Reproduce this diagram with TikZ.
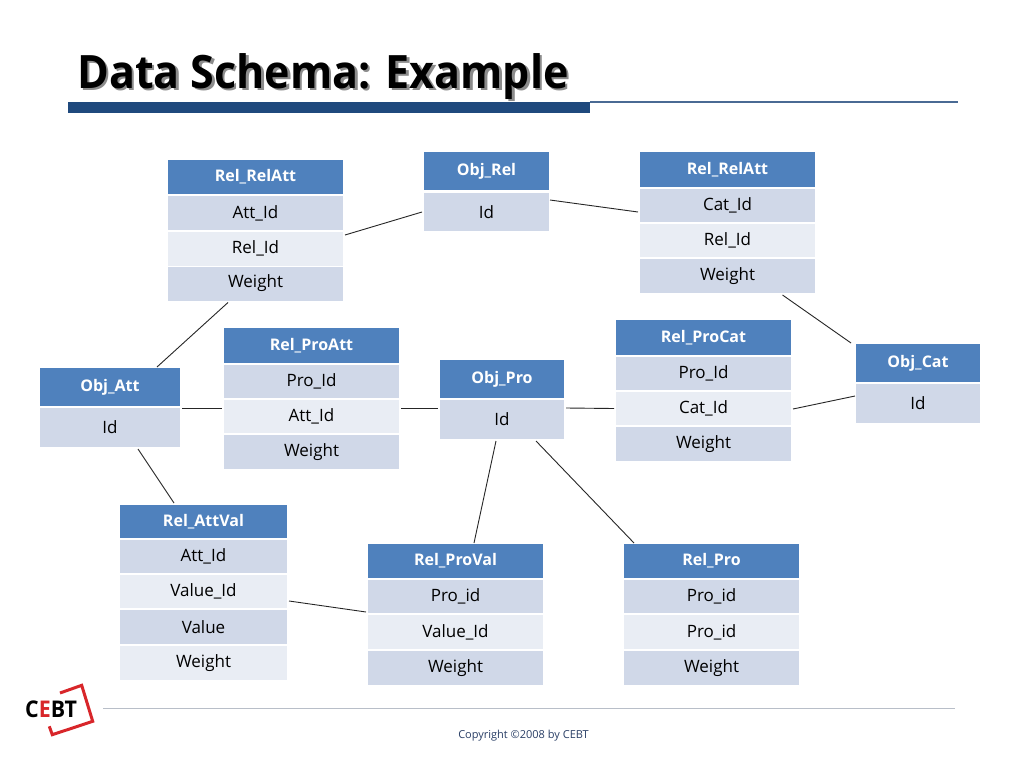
\documentclass[tikz,border=0pt]{standalone}
\usepackage{fontspec}
\setmainfont{Open Sans}
\definecolor{hdrblue}{HTML}{4F81BD}
\definecolor{rowdark}{HTML}{D0D8E8}
\definecolor{rowlight}{HTML}{E9EDF4}
\definecolor{barblue}{HTML}{1F497D}
\definecolor{thinblue}{HTML}{4A6A94}
\definecolor{footgray}{HTML}{B8BEC8}
\definecolor{copyblue}{HTML}{2A3F66}
\definecolor{logored}{HTML}{D8262A}
\tikzset{
  cellbase/.style={inner sep=0pt, outer sep=0pt, anchor=center},
  hdr/.style={cellbase, fill=hdrblue, text=white, font=\fontsize{16}{19}\selectfont\bfseries},
  rdark/.style={cellbase, fill=rowdark, text=black, font=\fontsize{17}{20}\selectfont},
  rlight/.style={cellbase, fill=rowlight, text=black, font=\fontsize{17}{20}\selectfont},
  wd/.style={minimum width=#1},
  ht/.style={minimum height=#1},
  link/.style={draw=black!85, line width=0.9pt},
}
\begin{document}
\begin{tikzpicture}[x=1pt,y=-1pt]
\useasboundingbox (0,0) rectangle (1024,768);
\fill[white] (0,0) rectangle (1024,768);

% ---- title ----
\node[anchor=base west, inner sep=0pt, text=black!45, font=\fontsize{46}{50}\selectfont\bfseries] (titleshadow) at (79.5,90.5) {\scalebox{0.935}[1]{Data Schema: Example}};
\node[anchor=base west, inner sep=0pt, text=black, font=\fontsize{46}{50}\selectfont\bfseries] (title) at (77,88) {\scalebox{0.935}[1]{Data Schema: Example}};
\fill[barblue] (68,102) rectangle (590,113);
\draw[thinblue, line width=1.3pt] (590,102) -- (958,102);

% ---- Rel_RelAtt (left) ----
\node[hdr, wd=175, ht=34] (lah) at (255.5,177) {Rel\_RelAtt};
\node[rdark, wd=175, ht=34] (la1) at (255.5,213) {Att\_Id};
\node[rlight, wd=175, ht=34] (la2) at (255.5,248.5) {Rel\_Id};
\node[rdark, wd=175, ht=34] (la3) at (255.5,283.5) {Weight};

% ---- Obj_Rel ----
\node[hdr, wd=125, ht=38] (orh) at (486.5,171) {Obj\_Rel};
\node[rdark, wd=125, ht=38] (or1) at (486.5,212) {Id};

% ---- Rel_RelAtt (right) ----
\node[hdr, wd=175, ht=35] (rah) at (727.5,169.5) {Rel\_RelAtt};
\node[rdark, wd=175, ht=33] (ra1) at (727.5,205.5) {Cat\_Id};
\node[rlight, wd=175, ht=33] (ra2) at (727.5,240.5) {Rel\_Id};
\node[rdark, wd=175, ht=34] (ra3) at (727.5,276) {Weight};

% ---- Obj_Att ----
\node[hdr, wd=140, ht=38] (oah) at (110,387) {Obj\_Att};
\node[rdark, wd=140, ht=39] (oa1) at (110,427.5) {Id};

% ---- Rel_ProAtt ----
\node[hdr, wd=175, ht=35] (pah) at (311.5,345.5) {Rel\_ProAtt};
\node[rdark, wd=175, ht=33] (pa1) at (311.5,381.5) {Pro\_Id};
\node[rlight, wd=175, ht=33] (pa2) at (311.5,416.5) {Att\_Id};
\node[rdark, wd=175, ht=34] (pa3) at (311.5,452) {Weight};

% ---- Obj_Pro ----
\node[hdr, wd=124, ht=38] (oph) at (502,379) {Obj\_Pro};
\node[rdark, wd=124, ht=39] (op1) at (502,419.5) {Id};

% ---- Rel_ProCat ----
\node[hdr, wd=175, ht=35] (pch) at (703.5,337.5) {Rel\_ProCat};
\node[rdark, wd=175, ht=33] (pc1) at (703.5,373.5) {Pro\_Id};
\node[rlight, wd=175, ht=33] (pc2) at (703.5,408.5) {Cat\_Id};
\node[rdark, wd=175, ht=34] (pc3) at (703.5,444) {Weight};

% ---- Obj_Cat ----
\node[hdr, wd=124, ht=38] (och) at (918,363) {Obj\_Cat};
\node[rdark, wd=124, ht=39] (oc1) at (918,403.5) {Id};

% ---- Rel_AttVal ----
\node[hdr, wd=167, ht=33] (avh) at (203.5,521.5) {Rel\_AttVal};
\node[rdark, wd=167, ht=33] (av1) at (203.5,556.5) {Att\_Id};
\node[rlight, wd=167, ht=33] (av2) at (203.5,591.5) {Value\_Id};
\node[rdark, wd=167, ht=34] (av3) at (203.5,627) {Value};
\node[rlight, wd=167, ht=34] (av4) at (203.5,663) {Weight};

% ---- Rel_ProVal ----
\node[hdr, wd=175, ht=34] (pvh) at (455.5,561) {Rel\_ProVal};
\node[rdark, wd=175, ht=33] (pv1) at (455.5,596.5) {Pro\_id};
\node[rlight, wd=175, ht=34] (pv2) at (455.5,632) {Value\_Id};
\node[rdark, wd=175, ht=34] (pv3) at (455.5,668) {Weight};

% ---- Rel_Pro ----
\node[hdr, wd=175, ht=34] (prh) at (711.5,561) {Rel\_Pro};
\node[rdark, wd=175, ht=33] (pr1) at (711.5,596.5) {Pro\_id};
\node[rlight, wd=175, ht=34] (pr2) at (711.5,632) {Pro\_id};
\node[rdark, wd=175, ht=34] (pr3) at (711.5,668) {Weight};

% ---- connectors ----
\draw[link] ([shift={(2,-13.5)}]la2.east) -- ([shift={(-2,0)}]or1.west);
\draw[link] ([shift={(1,-12)}]or1.east) -- ([shift={(-2,6.5)}]ra1.west);
\draw[link] ([shift={(55,2)}]ra3.south) -- ([shift={(-5,-1)}]och.north west);
\draw[link] ([shift={(-27.5,2)}]la3.south) -- ([shift={(47,-1)}]oah.north);
\draw[link] ([shift={(2,-19.5)}]oa1.east) -- ([shift={(-2,-8.5)}]pa2.west);
\draw[link] ([shift={(2,-8.5)}]pa2.east) -- ([shift={(-2,-11.5)}]op1.west);
\draw[link] ([shift={(2,-11.5)}]op1.east) -- ([shift={(-2,0)}]pc2.west);
\draw[link] ([shift={(2,0.5)}]pc2.east) -- ([shift={(-1,-7.5)}]oc1.west);
\draw[link] ([shift={(28,2)}]oa1.south) -- ([shift={(-29.5,-2)}]avh.north);
\draw[link] ([shift={(-6,2)}]op1.south) -- ([shift={(18.5,-1)}]pvh.north);
\draw[link] ([shift={(34,2)}]op1.south) -- ([shift={(-77.5,-1)}]prh.north);
\draw[link] ([shift={(2,9.5)}]av2.east) -- ([shift={(-2,15.5)}]pv1.west);

% ---- footer ----
\draw[footgray, line width=1pt] (103,708) -- (955,708);
\node[anchor=base, inner sep=0pt, text=copyblue, font=\fontsize{11}{13}\selectfont] (copy) at (523.5,738) {Copyright \textcopyright2008 by CEBT};

% ---- logo ----
\draw[logored, line width=3pt, line join=miter] (60,693) -- (81.7,685.3) -- (92.7,721.3) -- (52.3,734.7) -- (49.3,726.3);
\node[anchor=base west, inner sep=0pt, font=\fontsize{23}{25}\selectfont\bfseries] (logo) at (25,717) {\scalebox{0.93}[1]{C\textcolor{logored}{E}BT}};
\end{tikzpicture}
\end{document}
